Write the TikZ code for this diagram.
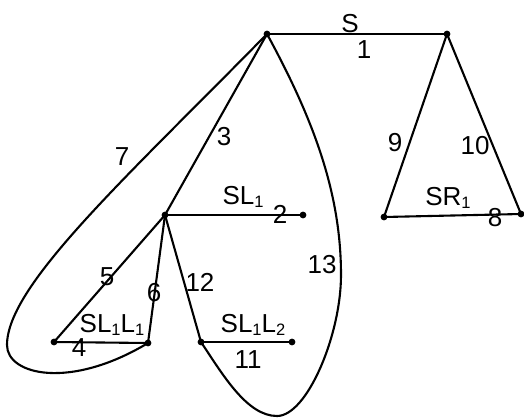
\documentclass[tikz,border=0pt]{standalone}
\usepackage{fontspec}
\setmainfont{Liberation Sans}
% lowered small index for the sub-tree names
\newcommand\idx[1]{\raisebox{-3pt}{\fontsize{16.5}{18}\selectfont #1}}
\begin{document}
\begin{tikzpicture}[x=1pt,y=-1pt,
  edge/.style={line width=2.1pt,line cap=round,line join=round},
  vdot/.style={fill=black},
  lab/.style={inner sep=0pt,font=\fontsize{26}{28}\selectfont}]
\useasboundingbox (0,0) rectangle (524,418);

% vertices
\coordinate (A) at (267,34);
\coordinate (B) at (447,34);
\coordinate (C) at (165,215);
\coordinate (D) at (303,215);
\coordinate (E) at (384,217);
\coordinate (F) at (521,214);
\coordinate (G) at (54,342);
\coordinate (H) at (148,343);
\coordinate (I) at (201,342);
\coordinate (J) at (292,342);
% turning points of the two loops
\coordinate (L) at (7,345);
\coordinate (R) at (341,275);
\coordinate (Q) at (277,416);

% straight edges
\draw[edge] (A) -- (B);
\draw[edge] (C) -- (D);
\draw[edge] (A) -- (C);
\draw[edge] (C) -- (G);
\draw[edge] (C) -- (H);
\draw[edge] (G) -- (H);
\draw[edge] (C) -- (I);
\draw[edge] (I) -- (J);
\draw[edge] (B) -- (E);
\draw[edge] (B) -- (F);
\draw[edge] (E) -- (F);

% curved edges
\draw[edge] (A) .. controls (127,177) and (7,285) .. (L)
                .. controls (7,375) and (70,390) .. (H);
\draw[edge] (A) .. controls (315,122) and (341,195) .. (R)
                .. controls (341,335) and (307,416) .. (Q)
                .. controls (247,416) and (223,375) .. (I);

% vertex dots
\foreach \v in {A,B,C,D,E,F,G,H,I,J}
  \fill[vdot] (\v) circle (3.4pt);

% labels
\node[lab] (tS)    at (350,24)  {S};
\node[lab] (t1)    at (364,50)  {1};
\node[lab] (tSL)   at (243,197) {SL\idx{1}};
\node[lab] (t2)    at (280,214) {2};
\node[lab] (t3)    at (224,137) {3};
\node[lab] (t7)    at (122,157) {7};
\node[lab] (t13)   at (322,265) {13};
\node[lab] (t12)   at (200,282) {12};
\node[lab] (t5)    at (107,277) {5};
\node[lab] (t6)    at (154,293) {6};
\node[lab] (tSLL1) at (112,325) {SL\idx{1}L\idx{1}};
\node[lab] (t4)    at (79,348)  {4};
\node[lab] (tSLL2) at (253,325) {SL\idx{1}L\idx{2}};
\node[lab] (t11)   at (248,360) {11};
\node[lab] (t9)    at (395,143) {9};
\node[lab] (t10)   at (475,146) {10};
\node[lab] (tSR)   at (448,198) {SR\idx{1}};
\node[lab] (t8)    at (495,218) {8};
\end{tikzpicture}
\end{document}
